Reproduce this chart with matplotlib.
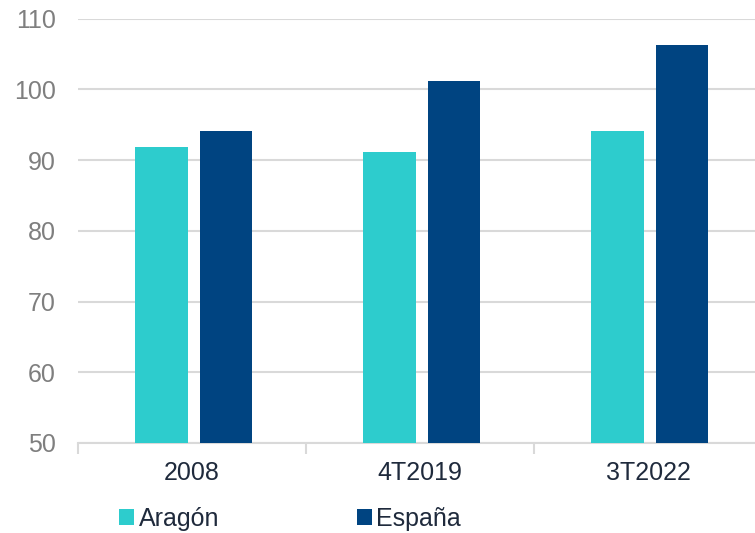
import numpy as np
import matplotlib
matplotlib.use('Agg')
import matplotlib.pyplot as plt

categories = ['2008', '4T2019', '3T2022']
aragon = [91.8, 91.2, 94.1]
espana = [94.1, 101.2, 106.2]
yticks = [50, 60, 70, 80, 90, 100, 110]

plt.rcParams['font.family'] = ['Liberation Sans', 'DejaVu Sans']

fig = plt.figure(figsize=(7.55, 5.33), dpi=100)
ax = fig.add_axes([78 / 755, 1 - 443 / 533, 684 / 755, (443 - 18.5) / 533])

x = np.arange(len(categories))
w = 0.232
ax.bar(x - 0.134, aragon, w, color='#2DCCCD', label='Aragón', zorder=3)
ax.bar(x + 0.149, espana, w, color='#004481', label='España', zorder=3)

ax.set_xlim(-0.5, 2.5)
ax.set_ylim(50, 110)
ax.set_yticks(yticks)
ax.yaxis.grid(True, color='#d9d9d9', linewidth=1.5, zorder=0)
ax.tick_params(axis='y', length=0, pad=16, labelsize=18, labelcolor='#7f7f7f')

ax.set_xticks(x)
ax.set_xticklabels(categories)
ax.set_xticks([-0.5, 0.5, 1.5, 2.5], minor=True)
ax.tick_params(axis='x', which='major', length=0, pad=13, labelsize=18, labelcolor='#1f2a3c')
ax.tick_params(axis='x', which='minor', length=8, width=1.5, color='#d9d9d9')

for s in ['top', 'right', 'left']:
    ax.spines[s].set_visible(False)
ax.spines['bottom'].set_color('#d9d9d9')
ax.spines['bottom'].set_linewidth(1.5)

fig.legend(loc='center left', bbox_to_anchor=(106 / 755, 1 - 519 / 533), ncol=2,
           frameon=False, fontsize=18, handlelength=0.6, handleheight=0.6,
           handletextpad=0.2, columnspacing=5.5, borderpad=0, labelcolor='#1f2a3c')

fig.savefig('out.png', dpi=100)
